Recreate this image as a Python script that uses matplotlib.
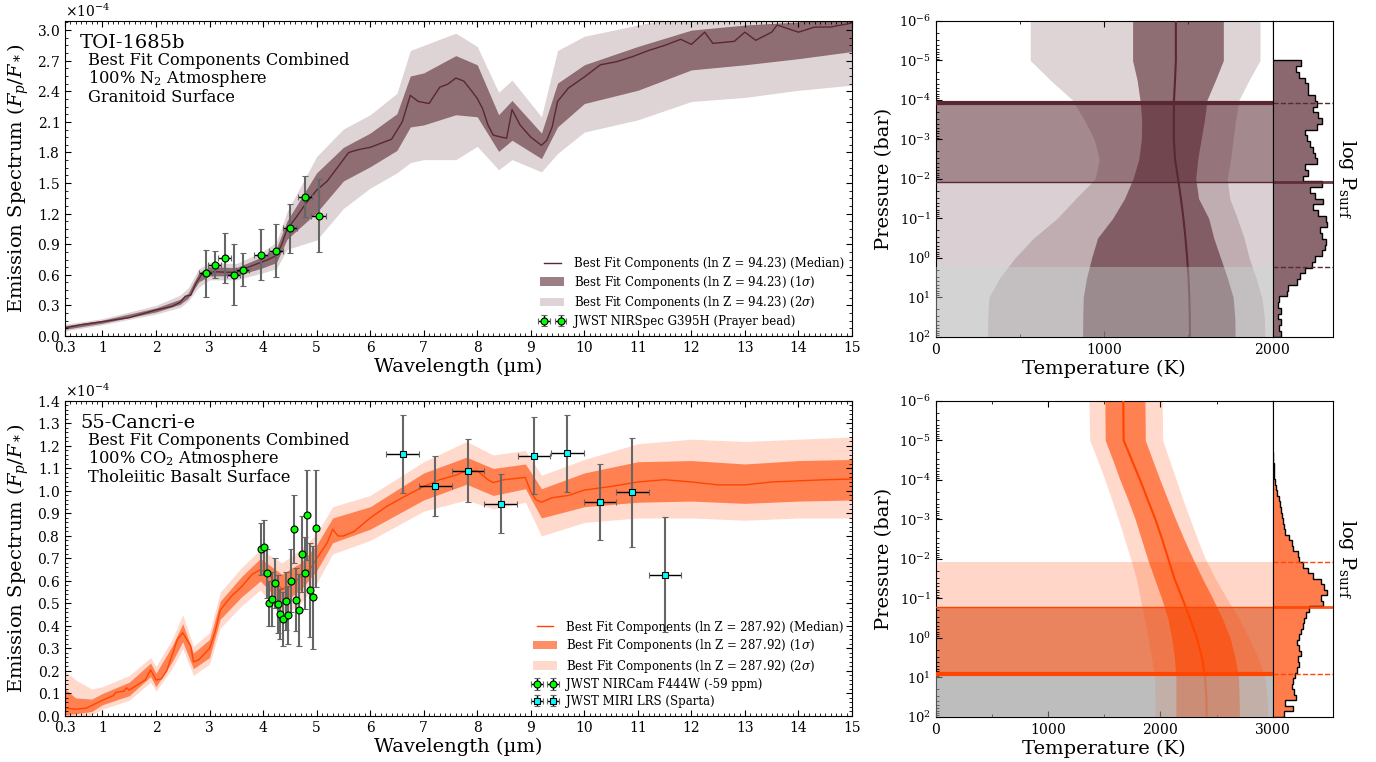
import numpy as np
import matplotlib
matplotlib.use("Agg")
import matplotlib.pyplot as plt
from matplotlib.ticker import MultipleLocator, AutoMinorLocator, LogLocator, NullFormatter

plt.rcParams.update({
    "font.family": "DejaVu Serif",
    "mathtext.fontset": "dejavuserif",
    "axes.formatter.use_mathtext": True,
    "xtick.direction": "in", "ytick.direction": "in",
    "xtick.top": True, "ytick.right": True,
    "xtick.major.size": 4, "ytick.major.size": 4,
    "xtick.minor.size": 2, "ytick.minor.size": 2,
    "xtick.labelsize": 10, "ytick.labelsize": 10,
    "legend.numpoints": 2,
})

MAROON = "#5a2832"
ORANGE = "orangered"
SCALE = 1e-4

# ---------------- TOI-1685b emission spectrum (units of 1e-4) ----------------
wl_toi = [0.3, 0.6, 1.0, 1.5, 2.0, 2.3, 2.45, 2.55, 2.65, 2.75, 2.85, 2.95, 3.1, 3.3, 3.5,
          3.7, 3.9, 4.1, 4.25, 4.35, 4.45, 4.6, 4.8, 5.0, 5.2, 5.4, 5.6, 5.8, 6.0, 6.2, 6.4,
          6.6, 6.75, 6.9, 7.1, 7.3, 7.45, 7.6, 7.75, 7.9, 8.0, 8.1, 8.2, 8.3, 8.45, 8.55,
          8.65, 8.8, 9.0, 9.2, 9.3, 9.4, 9.5, 9.7, 10.0, 10.3, 10.6, 10.9, 11.2, 11.5, 11.8,
          12.0, 12.25, 12.4, 12.8, 13.0, 13.2, 13.5, 13.6, 14.0, 14.3, 14.6, 15.0]
med_toi = [0.08, 0.11, 0.14, 0.18, 0.255, 0.29, 0.33, 0.39, 0.40, 0.52, 0.60, 0.62, 0.63, 0.625, 0.625,
           0.67, 0.71, 0.75, 0.79, 0.90, 1.05, 1.15, 1.30, 1.43, 1.52, 1.66, 1.80, 1.83, 1.85, 1.89, 1.93,
           2.10, 2.36, 2.30, 2.28, 2.44, 2.47, 2.53, 2.50, 2.40, 2.33, 2.23, 2.07, 1.97, 1.95, 1.94,
           2.22, 2.07, 1.95, 1.87, 1.92, 2.05, 2.30, 2.43, 2.54, 2.66, 2.69, 2.74, 2.80, 2.85, 2.91,
           2.86, 2.98, 2.87, 2.89, 2.98, 2.90, 2.98, 3.05, 2.98, 3.03, 3.03, 3.07]

wlb_toi = [0.3, 1.0, 2.0, 2.45, 2.6, 2.8, 3.0, 3.5, 4.0, 4.25, 4.45, 5.0, 5.5, 6.0, 6.5, 6.75,
           7.0, 7.6, 8.0, 8.4, 8.65, 9.2, 9.5, 10.0, 11.0, 12.0, 13.0, 14.0, 15.0]
lo2_toi = [0.05, 0.11, 0.215, 0.28, 0.34, 0.48, 0.55, 0.55, 0.62, 0.66, 0.85, 0.94, 1.25, 1.45, 1.60, 1.70,
           1.73, 1.73, 1.86, 1.63, 1.73, 1.61, 1.79, 2.00, 2.12, 2.30, 2.34, 2.41, 2.46]
lo1_toi = [0.065, 0.125, 0.235, 0.31, 0.37, 0.53, 0.59, 0.59, 0.67, 0.72, 0.95, 1.21, 1.52, 1.66, 1.82, 2.05,
           2.07, 2.17, 2.15, 1.81, 1.92, 1.74, 2.05, 2.28, 2.41, 2.61, 2.66, 2.72, 2.79]
hi1_toi = [0.10, 0.155, 0.275, 0.36, 0.42, 0.62, 0.68, 0.67, 0.78, 0.86, 1.13, 1.60, 1.85, 1.99, 2.18, 2.55,
           2.58, 2.75, 2.66, 2.17, 2.31, 1.99, 2.48, 2.66, 2.84, 3.00, 3.05, 3.08, 3.20]
hi2_toi = [0.115, 0.17, 0.30, 0.40, 0.47, 0.66, 0.72, 0.71, 0.83, 0.92, 1.22, 1.76, 2.03, 2.17, 2.38, 2.80,
           2.85, 2.97, 2.84, 2.39, 2.51, 2.15, 2.80, 2.94, 3.05, 3.15, 3.20, 3.25, 3.30]

# NIRSpec G395H points
nrs_wl = [2.93, 3.10, 3.28, 3.45, 3.62, 3.96, 4.24, 4.50, 4.78, 5.04]
nrs_fp = [0.615, 0.70, 0.765, 0.60, 0.65, 0.795, 0.835, 1.055, 1.365, 1.18]
nrs_err = [0.23, 0.13, 0.245, 0.30, 0.16, 0.25, 0.26, 0.24, 0.20, 0.355]
nrs_xerr = [0.12, 0.12, 0.12, 0.12, 0.12, 0.13, 0.13, 0.13, 0.13, 0.14]

# ---------------- 55 Cnc e emission spectrum (units of 1e-4) ----------------
wl_cnc = [0.3, 0.5, 0.7, 1.0, 1.2, 1.25, 1.4, 1.45, 1.5, 1.6, 1.8, 1.9, 2.0, 2.1, 2.2, 2.3, 2.4,
          2.5, 2.6, 2.65, 2.7, 2.8, 3.0, 3.1, 3.2, 3.4, 3.6, 3.8, 3.95, 4.1, 4.2, 4.35, 4.5, 4.7,
          4.9, 5.0, 5.2, 5.3, 5.4, 5.5, 5.7, 6.0, 6.3, 6.6, 7.0, 7.3, 7.6, 7.8, 8.0, 8.2, 8.3,
          8.5, 8.9, 9.0, 9.1, 9.2, 9.4, 9.7, 10.0, 10.5, 11.0, 11.5, 12.0, 12.5, 13.0, 13.5,
          14.0, 14.5, 15.0]
med_cnc = [0.035, 0.03, 0.035, 0.07, 0.09, 0.105, 0.11, 0.125, 0.115, 0.13, 0.16, 0.205, 0.16, 0.165,
           0.20, 0.27, 0.34, 0.37, 0.33, 0.31, 0.24, 0.25, 0.30, 0.37, 0.47, 0.53, 0.575, 0.63, 0.65,
           0.635, 0.60, 0.565, 0.575, 0.62, 0.66, 0.70, 0.77, 0.83, 0.80, 0.80, 0.82, 0.88, 0.93,
           0.97, 1.02, 1.05, 1.07, 1.09, 1.09, 1.05, 1.037, 1.05, 1.06, 0.996, 0.96, 0.95, 0.97,
           0.98, 1.004, 1.02, 1.04, 1.05, 1.04, 1.027, 1.027, 1.04, 1.045, 1.05, 1.053]

wlb_cnc = [0.3, 0.5, 0.8, 1.0, 1.5, 1.9, 2.0, 2.3, 2.5, 2.7, 3.0, 3.2, 3.6, 3.95, 4.35, 4.7, 5.0,
           5.3, 6.0, 7.0, 7.8, 8.3, 8.9, 9.2, 10.0, 11.0, 12.0, 13.0, 14.0, 15.0]
lo2_cnc = [0.0, 0.0, 0.005, 0.03, 0.07, 0.15, 0.11, 0.21, 0.30, 0.18, 0.23, 0.39, 0.49, 0.56, 0.44,
           0.50, 0.59, 0.72, 0.78, 0.91, 0.96, 0.92, 0.95, 0.80, 0.86, 0.88, 0.88, 0.87, 0.88, 0.88]
lo1_cnc = [0.005, 0.01, 0.02, 0.05, 0.09, 0.175, 0.13, 0.24, 0.33, 0.21, 0.26, 0.43, 0.53, 0.60, 0.50,
           0.56, 0.645, 0.77, 0.83, 0.96, 1.03, 0.98, 1.01, 0.88, 0.93, 0.95, 0.955, 0.945, 0.955, 0.96]
hi1_cnc = [0.12, 0.08, 0.075, 0.10, 0.15, 0.235, 0.19, 0.31, 0.41, 0.28, 0.34, 0.51, 0.62, 0.70, 0.63,
           0.68, 0.76, 0.88, 0.93, 1.08, 1.15, 1.10, 1.12, 1.01, 1.08, 1.13, 1.135, 1.12, 1.135, 1.14]
hi2_cnc = [0.20, 0.16, 0.12, 0.13, 0.18, 0.26, 0.22, 0.34, 0.45, 0.31, 0.37, 0.55, 0.66, 0.74, 0.68,
           0.74, 0.81, 0.93, 0.98, 1.13, 1.22, 1.16, 1.18, 1.07, 1.14, 1.21, 1.23, 1.22, 1.23, 1.24]

# NIRCam F444W points
nrc_wl = [3.96, 4.02, 4.07, 4.12, 4.17, 4.22, 4.27, 4.32, 4.37, 4.42, 4.47, 4.52, 4.57, 4.62,
          4.67, 4.72, 4.78, 4.82, 4.87, 4.93, 4.98]
nrc_fp = [0.741, 0.75, 0.634, 0.50, 0.52, 0.59, 0.497, 0.453, 0.43, 0.51, 0.449, 0.60, 0.83, 0.517,
          0.47, 0.72, 0.634, 0.895, 0.56, 0.527, 0.834]
nrc_err = [0.115, 0.12, 0.11, 0.10, 0.12, 0.11, 0.13, 0.11, 0.12, 0.13, 0.13, 0.14, 0.15, 0.14,
           0.16, 0.17, 0.16, 0.20, 0.21, 0.23, 0.26]

# MIRI LRS points
miri_wl = [6.61, 7.22, 7.83, 8.44, 9.06, 9.68, 10.29, 10.90, 11.51]
miri_fp = [1.164, 1.022, 1.09, 0.944, 1.157, 1.167, 0.95, 0.994, 0.628]
miri_err = [0.175, 0.133, 0.14, 0.13, 0.17, 0.17, 0.17, 0.243, 0.255]
miri_xerr = [0.305] * 9

# ---------------- pressure-temperature profiles ----------------
logp = [-6, -5, -4.5, -4, -3.5, -3, -2.5, -2, -1.5, -1, -0.5, 0, 0.5, 1, 1.5, 2]

t_toi_lo2 = [560, 560, 680, 810, 880, 940, 970, 945, 830, 720, 580, 470, 380, 315, 308, 307]
t_toi_lo1 = [1168, 1168, 1195, 1212, 1222, 1220, 1205, 1170, 1120, 1050, 960, 925, 895, 875, 872, 871]
t_toi_med = [1425, 1425, 1420, 1414, 1413, 1413, 1420, 1438, 1455, 1470, 1482, 1492, 1500, 1505, 1508, 1509]
t_toi_hi1 = [1707, 1707, 1660, 1610, 1595, 1575, 1555, 1543, 1560, 1620, 1650, 1690, 1730, 1765, 1775, 1777]
t_toi_hi2 = [1925, 1925, 1860, 1800, 1780, 1765, 1750, 1730, 1745, 1790, 1830, 1860, 1900, 1935, 1950, 1954]

t_cnc_lo2 = [1363, 1370, 1440, 1505, 1565, 1625, 1680, 1735, 1785, 1820, 1855, 1890, 1920, 1950, 1951, 1951]
t_cnc_lo1 = [1505, 1508, 1575, 1639, 1710, 1775, 1830, 1885, 1947, 2010, 2065, 2100, 2125, 2138, 2138, 2138]
t_cnc_med = [1669, 1672, 1745, 1818, 1886, 1955, 2015, 2070, 2125, 2195, 2262, 2325, 2370, 2398, 2410, 2411]
t_cnc_hi1 = [1862, 1865, 1930, 1996, 2065, 2135, 2210, 2290, 2375, 2465, 2550, 2620, 2665, 2695, 2702, 2703]
t_cnc_hi2 = [2016, 2020, 2080, 2141, 2200, 2265, 2330, 2400, 2490, 2590, 2700, 2790, 2870, 2930, 2950, 2956]

# surface pressure posteriors (log10 bar): 16th, 50th, 84th percentile and best fit
psurf_toi = dict(lo=-3.92, med=-1.92, hi=0.23, best=-3.92)
psurf_cnc = dict(lo=-1.92, med=-0.77, hi=0.92, best=0.92)

hist_toi = [28, 23.3, 26.7, 32.3, 35.7, 35, 42.3, 44, 40.7, 45.7, 49.7, 44, 32.3, 34, 37.3, 40,
            42.3, 44, 32.3, 35.7, 30.7, 49, 37.3, 42.3, 50, 40.7, 45.7, 53.3, 54.7, 47.3, 49, 53.3,
            52.3, 49, 42.3, 39, 32.3, 27.3, 24, 15.7, 14.7, 6.7, 5.7, 8, 5.7, 8, 6.7, 8]
hist_toi_range = (-5.0, 2.0)
hist_cnc = [0.5, 0.7, 1.0, 1.3, 1.7, 2.5, 3.3, 4.3, 6, 7, 8.3, 9.3, 10.7, 11.7, 12.7, 16,
            19.3, 20.7, 25, 26.7, 30, 35, 40, 48.3, 51.7, 54, 48.3, 50, 36.7, 33.3, 31.7, 30,
            28.3, 26.7, 24.3, 26, 28.3, 25, 26, 24, 22.7, 20.7, 19.3, 21.7, 23.3, 12.7, 20, 11.7]
hist_cnc_range = (-4.71, 2.0)


def spectrum_panel(ax, wl, med, wlb, lo1, hi1, lo2, hi2, color, lnz):
    s = SCALE
    b2 = ax.fill_between(wlb, np.array(lo2) * s, np.array(hi2) * s, color=color, alpha=0.2, lw=0)
    b1 = ax.fill_between(wlb, np.array(lo1) * s, np.array(hi1) * s, color=color, alpha=0.6, lw=0)
    ln, = ax.plot(wl, np.array(med) * s, color=color, lw=1)
    base = "Best Fit Components (ln Z = %s)" % lnz
    handles = [ln, b1, b2]
    labels = [base + " (Median)", base + r" ($1\sigma$)", base + r" ($2\sigma$)"]
    ax.set_xlim(0.3, 15)
    ax.set_xticks([0.3] + list(range(1, 16)))
    ax.set_xticklabels(["0.3"] + [str(i) for i in range(1, 16)])
    ax.xaxis.set_minor_locator(MultipleLocator(0.1))
    ax.yaxis.set_minor_locator(AutoMinorLocator())
    ax.ticklabel_format(axis="y", style="sci", scilimits=(0, 0))
    ax.yaxis.get_offset_text().set_fontsize(10)
    ax.set_xlabel("Wavelength (µm)", fontsize=14, labelpad=2)
    ax.set_ylabel(r"Emission Spectrum $(F_p/F_*)$", fontsize=14)
    return handles, labels


def data_points(ax, x, y, err, xerr, marker, face):
    eb = ax.errorbar(x, np.array(y) * SCALE, yerr=np.array(err) * SCALE, xerr=xerr, fmt=marker,
                     mfc=face, mec="k", ms=5, mew=0.8, ecolor="0.4", elinewidth=1.5,
                     capsize=2, capthick=1, zorder=4)
    for cap in eb[1]:
        cap.set_color("k")
    if xerr is not None:
        eb[2][0].set_color("k")
        eb[2][0].set_linewidth(1)
    return eb


def text_block(ax, name, lines):
    ax.text(0.019, 0.913, name, transform=ax.transAxes, fontsize=14, va="baseline")
    for i, line in enumerate(lines):
        ax.text(0.029, 0.860 - 0.058 * i, line, transform=ax.transAxes, fontsize=11.7, va="baseline")


def pt_panel(ax, hax, t_lo2, t_lo1, t_med, t_hi1, t_hi2, color, tmax, ps, gray_under,
             hvals, hrange):
    p = 10.0 ** np.array(logp)
    if gray_under is not None:
        ax.axhspan(10 ** gray_under, 1e2, color="lightgray", lw=0, zorder=0.5)
    ax.axhspan(10 ** ps["lo"], 10 ** ps["hi"], color=color, alpha=0.22, lw=0, zorder=1)
    ax.axhspan(10 ** ps["best"], 10 ** ps["med"], color=color, alpha=0.42, lw=0, zorder=1)
    ax.fill_betweenx(p, t_lo2, t_hi2, color=color, alpha=0.2, lw=0, zorder=2)
    ax.fill_betweenx(p, t_lo1, t_hi1, color=color, alpha=0.6, lw=0, zorder=2)
    ax.plot(t_med, p, color=color, lw=1.5, zorder=3)
    # region below the surface
    ax.axhspan(10 ** ps["hi"], 1e2, color="darkgray", alpha=0.5, lw=0, zorder=4)
    ax.axhline(10 ** ps["best"], color=color, lw=3, zorder=5)
    ax.axhline(10 ** ps["med"], color=color, lw=1, zorder=5)

    ax.set_yscale("log")
    ax.set_ylim(1e2, 1e-6)
    ax.set_xlim(0, tmax)
    ax.xaxis.set_major_locator(MultipleLocator(1000))
    ax.xaxis.set_minor_locator(MultipleLocator(500))
    ax.yaxis.set_major_locator(LogLocator(base=10, numticks=20))
    ax.yaxis.set_minor_locator(LogLocator(base=10, subs=np.arange(2, 10), numticks=20))
    ax.yaxis.set_minor_formatter(NullFormatter())
    ax.tick_params(axis="y", which="both", right=False, labelsize=9.5)
    ax.set_xlabel("Temperature (K)", fontsize=14, labelpad=2)
    ax.set_ylabel("Pressure (bar)", fontsize=14)

    edges = 10.0 ** np.linspace(hrange[0], hrange[1], len(hvals) + 1)
    hax.stairs(hvals, edges, orientation="horizontal", fill=True, color=color, alpha=0.7, lw=0)
    hax.stairs(hvals, edges, orientation="horizontal", color="k", lw=1)
    hax.axhline(10 ** ps["lo"], color=color, ls="--", lw=1)
    hax.axhline(10 ** ps["hi"], color=color, ls="--", lw=1)
    hax.axhline(10 ** ps["med"], color=color, lw=2, alpha=0.9)
    hax.set_xlim(0, 60)
    hax.tick_params(which="both", left=False, right=False, top=False, bottom=False,
                    labelleft=False, labelbottom=False)
    hax.yaxis.set_label_position("right")
    hax.set_ylabel(r"log P$_{\rm surf}$", fontsize=14, rotation=270, labelpad=18)


fig = plt.figure(figsize=(13.76, 7.62), dpi=100)
ax1 = fig.add_axes([0.0472, 0.5591, 0.5720, 0.4134])
ax2 = fig.add_axes([0.0472, 0.0604, 0.5720, 0.4134])
pt1 = fig.add_axes([0.6802, 0.5582, 0.2447, 0.4142])
h1 = fig.add_axes([0.9249, 0.5582, 0.0436, 0.4142], sharey=pt1)
pt2 = fig.add_axes([0.6802, 0.0591, 0.2447, 0.4150])
h2 = fig.add_axes([0.9249, 0.0591, 0.0436, 0.4150], sharey=pt2)

# top spectrum
hs, ls = spectrum_panel(ax1, wl_toi, med_toi, wlb_toi, lo1_toi, hi1_toi, lo2_toi, hi2_toi, MAROON, "94.23")
eb = data_points(ax1, nrs_wl, nrs_fp, nrs_err, nrs_xerr, "o", "lime")
ax1.set_ylim(0, 3.09e-4)
ax1.yaxis.set_major_locator(MultipleLocator(0.3e-4))
ax1.legend(hs + [eb], ls + ["JWST NIRSpec G395H (Prayer bead)"], loc="lower right",
           frameon=False, fontsize=8.5, borderaxespad=0.3, handlelength=2.0, labelspacing=0.3)
text_block(ax1, "TOI-1685b", ["Best Fit Components Combined", r"100% N$_2$ Atmosphere",
                              "Granitoid Surface"])

# bottom spectrum
hs, ls = spectrum_panel(ax2, wl_cnc, med_cnc, wlb_cnc, lo1_cnc, hi1_cnc, lo2_cnc, hi2_cnc, ORANGE, "287.92")
eb_nrc = data_points(ax2, nrc_wl, nrc_fp, nrc_err, [0.0] * len(nrc_wl), "o", "lime")
eb_miri = data_points(ax2, miri_wl, miri_fp, miri_err, miri_xerr, "s", "cyan")
ax2.set_ylim(0, 1.4e-4)
ax2.yaxis.set_major_locator(MultipleLocator(0.1e-4))
ax2.legend(hs + [eb_nrc, eb_miri], ls + ["JWST NIRCam F444W (-59 ppm)", "JWST MIRI LRS (Sparta)"],
           loc="lower right", frameon=False, fontsize=8.5, borderaxespad=0.3, handlelength=2.0,
           labelspacing=0.3)
text_block(ax2, "55-Cancri-e", ["Best Fit Components Combined", r"100% CO$_2$ Atmosphere",
                                "Tholeiitic Basalt Surface"])

# P-T profiles with surface pressure posteriors
pt_panel(pt1, h1, t_toi_lo2, t_toi_lo1, t_toi_med, t_toi_hi1, t_toi_hi2, MAROON, 2000,
         psurf_toi, None, hist_toi, hist_toi_range)
pt_panel(pt2, h2, t_cnc_lo2, t_cnc_lo1, t_cnc_med, t_cnc_hi1, t_cnc_hi2, ORANGE, 3000,
         psurf_cnc, psurf_cnc["med"], hist_cnc, hist_cnc_range)

fig.savefig("out.png", dpi=100)
